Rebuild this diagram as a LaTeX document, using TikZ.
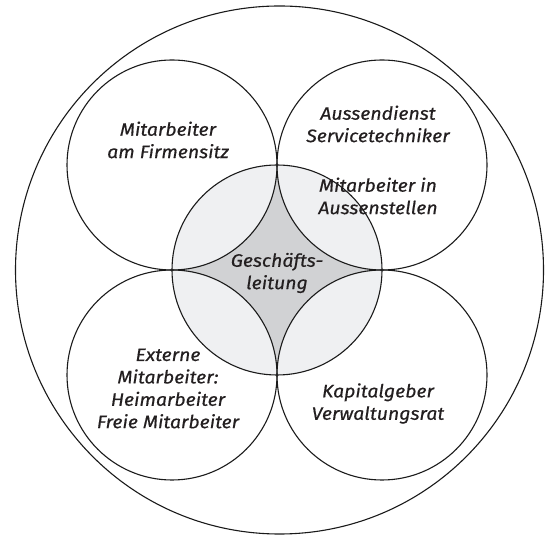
\documentclass[tikz,border=0pt]{standalone}
\usepackage{fontspec}
\setmainfont{Fira Sans}
\newfontfamily\lblfont[FakeBold=0.5,FakeStretch=1.08]{Fira Sans}
\definecolor{lightfill}{HTML}{EFF0F2}
\definecolor{darkfill}{HTML}{D1D2D4}
\definecolor{linec}{HTML}{1A1A1A}
\definecolor{textc}{HTML}{231F20}
\begin{document}
\begin{tikzpicture}[x=1pt,y=1pt,
  ring/.style={draw=linec,line width=1.1pt},
  lbl/.style={align=center,inner sep=0pt,text=textc,
    font=\lblfont\fontsize{18}{22.4}\selectfont\itshape}]
\useasboundingbox (0,0) rectangle (551,535);
% outer circle
\draw[ring] (279.5,265) circle[radius=264];
% centre circle fill
\fill[lightfill] (277,265) circle[radius=105];
% central region (astroid)
\fill[darkfill] (277,370) arc[start angle=0,end angle=-90,radius=105]
  arc[start angle=90,end angle=0,radius=105]
  arc[start angle=180,end angle=90,radius=105]
  arc[start angle=270,end angle=180,radius=105] -- cycle;
% outlines
\draw[ring] (277,265) circle[radius=105];
\draw[ring] (172,370) circle[radius=105];
\draw[ring] (382,370) circle[radius=105];
\draw[ring] (172,160) circle[radius=105];
\draw[ring] (382,160) circle[radius=105];
% labels
\node[lbl] (firm) at (168,395) {Mitarbeiter\\am Firmensitz};
\node[lbl] (aussen) at (378,411) {Aussendienst\\Servicetechniker};
\node[lbl] (stellen) at (378,339) {Mitarbeiter in\\Aussenstellen};
\node[lbl] (gl) at (277,262) {Geschäfts-\\leitung};
\node[lbl] (extern) at (168,146.5) {Externe\\Mitarbeiter:\\Heimarbeiter\\Freie Mitarbeiter};
\node[lbl] (kapital) at (378,131.5) {Kapitalgeber\\Verwaltungsrat};
\end{tikzpicture}
\end{document}
